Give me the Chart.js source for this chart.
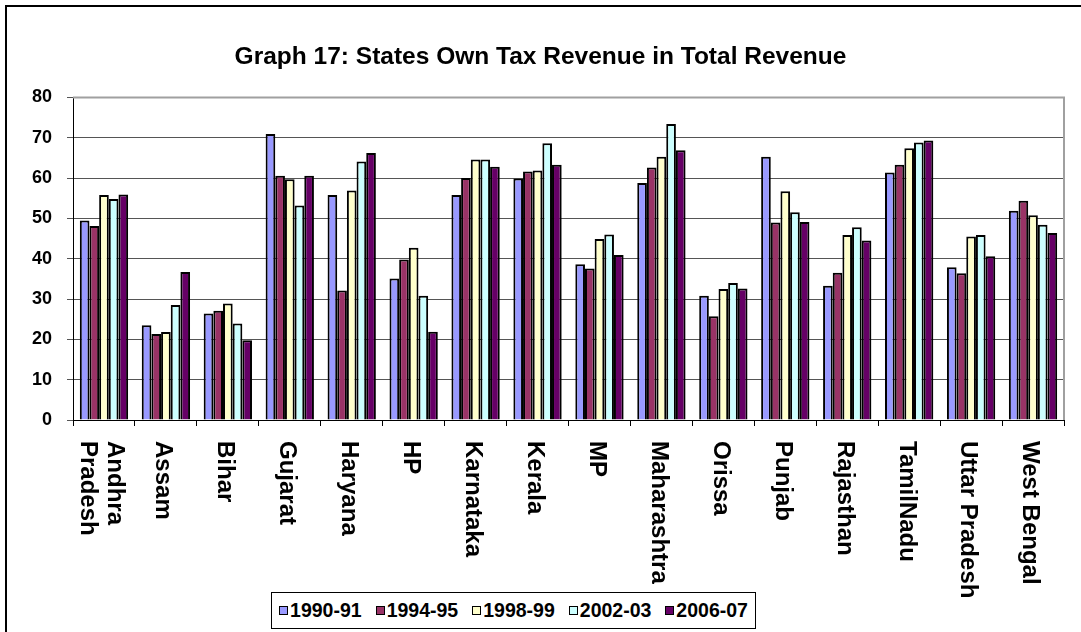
<!DOCTYPE html>
<html>
<head>
<meta charset="utf-8">
<script src="https://cdn.jsdelivr.net/npm/chart.js@4.4.0/dist/chart.umd.min.js"></script>
<style>
  html, body { margin: 0; padding: 0; background: #fff; overflow: hidden; }
  #wrap   { position: relative; width: 1081px; height: 632px; overflow: hidden; }
  #frame  { position: absolute; left: 5px; top: 5px; width: 1200px; height: 800px;
            border-left: 2px solid #000; border-top: 2px solid #000; }
  #c      { position: absolute; left: 0; top: 0; }
  #legend { position: absolute; left: 271px; top: 592px; width: 483px; height: 35px;
            border: 1px solid #000; background: #fff;
            display: flex; align-items: center; justify-content: center; gap: 14px;
            font: bold 19.5px "Liberation Sans", Arial, sans-serif; color: #000; }
  #legend span.item { display: flex; align-items: center; }
  #legend i { display: inline-block; width: 7px; height: 7px; border: 1px solid #000; margin-right: 2px; }
</style>
</head>
<body>
<div id="wrap">
  <div id="frame"></div>
  <canvas id="c" width="1081" height="632"></canvas>
  <div id="legend"></div>
</div>
<script>
// ── data ──
const states = [["Andhra", "Pradesh"], "Assam", "Bihar", "Gujarat", "Haryana", "HP", "Karnataka",
  "Kerala", "MP", "Maharashtra", "Orissa", "Punjab", "Rajasthan", "TamilNadu", "Uttar Pradesh", "West Bengal"];

const years   = ["1990-91", "1994-95", "1998-99", "2002-03", "2006-07"];
const colors  = ["#9999FF", "#993366", "#FFFFCC", "#CCFFFF", "#660066"];

const y1990 = [49.5, 23.5, 26.4, 70.9, 55.8, 35.1, 55.8, 59.9, 38.6, 58.8, 30.8, 65.3, 33.3, 61.4, 37.9, 51.9];
const y1994 = [48.1, 21.3, 27.1, 60.6, 32.1, 39.8, 60.0, 61.6, 37.6, 62.6, 25.7, 49.0, 36.5, 63.3, 36.4, 54.4];
const y1998 = [55.8, 21.8, 28.9, 59.7, 56.9, 42.7, 64.6, 61.9, 44.9, 65.3, 32.5, 56.7, 45.9, 67.4, 45.5, 50.8];
const y2002 = [54.8, 28.5, 23.9, 53.2, 64.1, 30.8, 64.6, 68.6, 46.0, 73.4, 34.0, 51.5, 47.8, 68.8, 45.9, 48.4];
const y2006 = [55.9, 36.7, 19.8, 60.6, 66.2, 21.9, 62.8, 63.3, 40.9, 66.9, 32.6, 49.1, 44.5, 69.3, 40.6, 46.4];

const yTicks = [0, 10, 20, 30, 40, 50, 60, 70, 80];

const series = [y1990, y1994, y1998, y2002, y2006];
const FONT = '"Liberation Sans", Arial, sans-serif';

// ── legend (html) ──
const legendEl = document.getElementById("legend");
years.forEach((y, i) => {
  const s = document.createElement("span");
  s.className = "item";
  s.innerHTML = `<i style="background:${colors[i]}"></i>${y}`;
  legendEl.appendChild(s);
});

// ── plot frame: grey top/right edge ──
const frameEdge = {
  id: "frameEdge",
  afterDatasetsDraw(chart) {
    const { ctx, chartArea: a } = chart;
    ctx.save();
    ctx.strokeStyle = "#a0a0a0";
    ctx.lineWidth = 2;
    ctx.beginPath();
    ctx.moveTo(a.left, a.top);
    ctx.lineTo(a.right, a.top);
    ctx.lineTo(a.right, a.bottom);
    ctx.stroke();
    ctx.restore();
  }
};

// ── x labels, rotated clockwise ──
const xLabels = {
  id: "xLabels",
  afterDraw(chart) {
    const { ctx } = chart;
    const xs = chart.scales.x;
    ctx.save();
    ctx.font = "bold 24px " + FONT;
    ctx.fillStyle = "#000";
    ctx.textAlign = "left";
    ctx.textBaseline = "middle";
    states.forEach((lab, i) => {
      const lines = Array.isArray(lab) ? lab : [lab];
      ctx.save();
      ctx.translate(xs.getPixelForValue(i) - 3, xs.top + 21);
      ctx.rotate(Math.PI / 2);
      lines.forEach((ln, j) => ctx.fillText(ln, 0, (j - (lines.length - 1) / 2) * 27));
      ctx.restore();
    });
    ctx.restore();
  }
};

new Chart(document.getElementById("c"), {
  type: "bar",
  data: {
    labels: states,
    datasets: series.map((d, i) => ({
      label: years[i],
      data: d,
      backgroundColor: colors[i],
      borderColor: "#000",
      borderWidth: 2,
      categoryPercentage: 0.78,
      barPercentage: 1.0
    }))
  },
  options: {
    responsive: false,
    animation: false,
    layout: { padding: { left: 17, right: 17, top: 0, bottom: 206 } },
    plugins: {
      legend: { display: false },
      tooltip: { enabled: false },
      title: {
        display: true,
        text: "Graph 17: States Own Tax Revenue in Total Revenue",
        color: "#000",
        font: { family: FONT, size: 24.5, weight: "bold" },
        padding: { top: 43, bottom: 25 }
      }
    },
    scales: {
      x: {
        grid: { display: true, drawOnChartArea: false, tickLength: 6, color: "#000", offset: true },
        border: { color: "#000", width: 1 },
        ticks: { display: false }
      },
      y: {
        min: 0, max: 80,
        afterFit: s => { s.width = 56; },
        afterBuildTicks: s => { s.ticks = yTicks.map(v => ({ value: v })); },
        grid: { color: "#555", tickLength: 6 },
        border: { color: "#000", width: 1 },
        ticks: { color: "#000", padding: 15, font: { family: FONT, size: 18, weight: "bold" } }
      }
    }
  },
  plugins: [frameEdge, xLabels]
});
</script>
</body>
</html>
